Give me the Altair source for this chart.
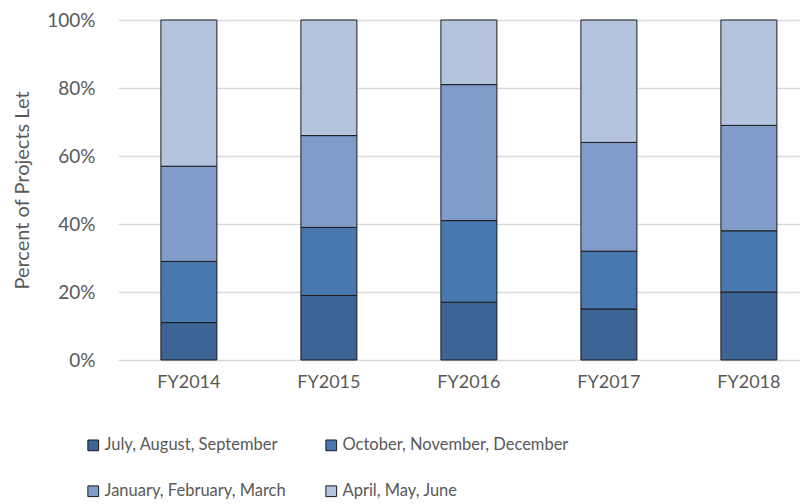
import altair as alt
import pandas as pd

years = ["FY2014", "FY2015", "FY2016", "FY2017", "FY2018"]
quarters = ["July, August, September", "October, November, December",
            "January, February, March", "April, May, June"]
jul_sep = [11, 19, 17, 15, 20]
oct_dec = [18, 20, 24, 17, 18]
jan_mar = [28, 27, 40, 32, 31]
apr_jun = [43, 34, 19, 36, 31]
colors = ["#3c6495", "#4878b0", "#7f9dc8", "#b5c4de"]

rows = []
for qi, (q, vals) in enumerate(zip(quarters, [jul_sep, oct_dec, jan_mar, apr_jun])):
    for y, v in zip(years, vals):
        rows.append({"Year": y, "Quarter": q, "Pct": v / 100.0, "Order": qi})
df = pd.DataFrame(rows)

# legend fills column-wise: reorder domain so rows read like the reference
legend_domain = [quarters[0], quarters[2], quarters[1], quarters[3]]
legend_range = [colors[0], colors[2], colors[1], colors[3]]

FONT = "Lato"
GRAY = "#595959"

chart = alt.Chart(df).mark_bar(stroke="#1a1a1a", strokeWidth=1).encode(
    x=alt.X("Year:N", sort=years,
            scale=alt.Scale(paddingInner=0.6, paddingOuter=0.2357, align=0.65),
            axis=alt.Axis(title=None, labelAngle=0, labelFont=FONT, labelFontSize=18,
                          labelColor=GRAY, ticks=False, domain=False, labelPadding=13,
                          grid=False)),
    y=alt.Y("Pct:Q", stack="zero",
            scale=alt.Scale(domain=[0, 1]),
            axis=alt.Axis(title="Percent of Projects Let", format=".0%", values=[0, 0.2, 0.4, 0.6, 0.8, 1.0],
                          labelFont=FONT, labelFontSize=19, labelColor=GRAY,
                          titleFont=FONT, titleFontSize=20, titleColor=GRAY, titleFontWeight="normal",
                          titlePadding=14, labelPadding=23, ticks=False, domain=False,
                          gridColor="#d9d9d9", gridWidth=1.5)),
    color=alt.Color("Quarter:N", scale=alt.Scale(domain=legend_domain, range=legend_range),
                    legend=alt.Legend(title=None, orient="none", legendX=-33, legendY=417,
                                      columns=2, columnPadding=37, rowPadding=29,
                                      labelFont=FONT, labelFontSize=16.5, labelColor=GRAY,
                                      labelLimit=0,
                                      symbolType="square", symbolSize=115,
                                      symbolStrokeColor="#1a1a1a", symbolStrokeWidth=1,
                                      labelOffset=3)),
    order=alt.Order("Order:Q", sort="ascending"),
).properties(
    width=682, height=340,
    padding={"top": 3, "left": 4, "right": 0, "bottom": 0},
).configure_view(stroke=None)

chart.save("out.html", embed_options={"renderer": "svg", "actions": False})
